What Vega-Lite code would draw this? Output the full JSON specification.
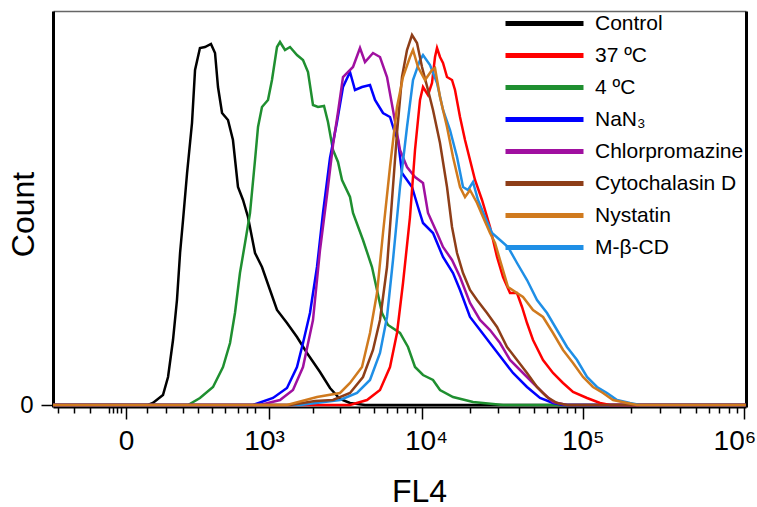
{
  "$schema": "https://vega.github.io/schema/vega-lite/v6.json",
  "width": 693,
  "height": 396,
  "autosize": "none",
  "padding": {"left": 53, "top": 11, "right": 11, "bottom": 100},
  "background": "white",
  "config": {"view": {"stroke": null}, "font": "Liberation Sans"},
  "data": {"values": [
    {"sample":"Control","fl4":-274,"count":0},{"sample":"Control","fl4":55,"count":0},{"sample":"Control","fl4":70,"count":2},{"sample":"Control","fl4":104,"count":10},{"sample":"Control","fl4":123,"count":28},{"sample":"Control","fl4":143,"count":65},{"sample":"Control","fl4":160,"count":105},{"sample":"Control","fl4":174,"count":152},{"sample":"Control","fl4":188,"count":185},{"sample":"Control","fl4":208,"count":232},{"sample":"Control","fl4":234,"count":282},{"sample":"Control","fl4":251,"count":335},{"sample":"Control","fl4":280,"count":357},{"sample":"Control","fl4":312,"count":358},{"sample":"Control","fl4":353,"count":361},{"sample":"Control","fl4":383,"count":352},{"sample":"Control","fl4":406,"count":318},{"sample":"Control","fl4":439,"count":292},{"sample":"Control","fl4":491,"count":285},{"sample":"Control","fl4":538,"count":265},{"sample":"Control","fl4":589,"count":218},{"sample":"Control","fl4":644,"count":205},{"sample":"Control","fl4":702,"count":188},{"sample":"Control","fl4":792,"count":152},{"sample":"Control","fl4":890,"count":138},{"sample":"Control","fl4":1016,"count":115},{"sample":"Control","fl4":1138,"count":95},{"sample":"Control","fl4":1335,"count":82},{"sample":"Control","fl4":1562,"count":68},{"sample":"Control","fl4":1824,"count":52},{"sample":"Control","fl4":2226,"count":33},{"sample":"Control","fl4":2589,"count":17},{"sample":"Control","fl4":3008,"count":6},{"sample":"Control","fl4":3492,"count":2},{"sample":"Control","fl4":4359,"count":0},{"sample":"Control","fl4":1020000,"count":0},
    {"sample":"4 ºC","fl4":-274,"count":0},{"sample":"4 ºC","fl4":213,"count":0},{"sample":"4 ºC","fl4":280,"count":7},{"sample":"4 ºC","fl4":368,"count":18},{"sample":"4 ºC","fl4":447,"count":38},{"sample":"4 ºC","fl4":510,"count":62},{"sample":"4 ºC","fl4":558,"count":92},{"sample":"4 ºC","fl4":610,"count":132},{"sample":"4 ºC","fl4":667,"count":162},{"sample":"4 ºC","fl4":727,"count":192},{"sample":"4 ºC","fl4":792,"count":245},{"sample":"4 ºC","fl4":833,"count":278},{"sample":"4 ºC","fl4":890,"count":298},{"sample":"4 ºC","fl4":983,"count":305},{"sample":"4 ºC","fl4":1049,"count":325},{"sample":"4 ºC","fl4":1138,"count":358},{"sample":"4 ºC","fl4":1194,"count":363},{"sample":"4 ºC","fl4":1293,"count":355},{"sample":"4 ºC","fl4":1400,"count":358},{"sample":"4 ºC","fl4":1562,"count":350},{"sample":"4 ºC","fl4":1715,"count":345},{"sample":"4 ºC","fl4":1853,"count":333},{"sample":"4 ºC","fl4":2000,"count":300},{"sample":"4 ºC","fl4":2159,"count":298},{"sample":"4 ºC","fl4":2365,"count":299},{"sample":"4 ºC","fl4":2512,"count":283},{"sample":"4 ºC","fl4":2709,"count":255},{"sample":"4 ºC","fl4":2920,"count":243},{"sample":"4 ºC","fl4":3100,"count":225},{"sample":"4 ºC","fl4":3492,"count":208},{"sample":"4 ºC","fl4":3651,"count":192},{"sample":"4 ºC","fl4":4232,"count":165},{"sample":"4 ºC","fl4":4831,"count":138},{"sample":"4 ºC","fl4":5594,"count":92},{"sample":"4 ºC","fl4":6106,"count":80},{"sample":"4 ºC","fl4":7272,"count":72},{"sample":"4 ºC","fl4":8167,"count":58},{"sample":"4 ºC","fl4":9039,"count":38},{"sample":"4 ºC","fl4":10148,"count":30},{"sample":"4 ºC","fl4":11724,"count":25},{"sample":"4 ºC","fl4":12966,"count":15},{"sample":"4 ºC","fl4":15636,"count":8},{"sample":"4 ºC","fl4":20837,"count":3},{"sample":"4 ºC","fl4":27752,"count":1},{"sample":"4 ºC","fl4":32022,"count":0},{"sample":"4 ºC","fl4":1020000,"count":0},
    {"sample":"NaN₃","fl4":-274,"count":0},{"sample":"NaN₃","fl4":765,"count":0},{"sample":"NaN₃","fl4":1067,"count":7},{"sample":"NaN₃","fl4":1335,"count":17},{"sample":"NaN₃","fl4":1562,"count":38},{"sample":"NaN₃","fl4":1715,"count":62},{"sample":"NaN₃","fl4":1910,"count":92},{"sample":"NaN₃","fl4":2126,"count":138},{"sample":"NaN₃","fl4":2329,"count":192},{"sample":"NaN₃","fl4":2589,"count":247},{"sample":"NaN₃","fl4":2876,"count":283},{"sample":"NaN₃","fl4":3146,"count":318},{"sample":"NaN₃","fl4":3492,"count":333},{"sample":"NaN₃","fl4":3760,"count":315},{"sample":"NaN₃","fl4":4170,"count":318},{"sample":"NaN₃","fl4":4691,"count":320},{"sample":"NaN₃","fl4":5049,"count":305},{"sample":"NaN₃","fl4":5676,"count":292},{"sample":"NaN₃","fl4":6287,"count":288},{"sample":"NaN₃","fl4":6762,"count":272},{"sample":"NaN₃","fl4":7063,"count":265},{"sample":"NaN₃","fl4":7486,"count":232},{"sample":"NaN₃","fl4":8655,"count":218},{"sample":"NaN₃","fl4":9440,"count":198},{"sample":"NaN₃","fl4":10148,"count":182},{"sample":"NaN₃","fl4":11724,"count":172},{"sample":"NaN₃","fl4":13541,"count":148},{"sample":"NaN₃","fl4":15636,"count":132},{"sample":"NaN₃","fl4":17291,"count":115},{"sample":"NaN₃","fl4":19960,"count":88},{"sample":"NaN₃","fl4":23040,"count":75},{"sample":"NaN₃","fl4":27752,"count":58},{"sample":"NaN₃","fl4":32022,"count":45},{"sample":"NaN₃","fl4":36944,"count":32},{"sample":"NaN₃","fl4":45129,"count":18},{"sample":"NaN₃","fl4":54370,"count":7},{"sample":"NaN₃","fl4":65414,"count":2},{"sample":"NaN₃","fl4":75448,"count":0},{"sample":"NaN₃","fl4":1020000,"count":0},
    {"sample":"Chlorpromazine","fl4":-274,"count":0},{"sample":"Chlorpromazine","fl4":861,"count":0},{"sample":"Chlorpromazine","fl4":1194,"count":5},{"sample":"Chlorpromazine","fl4":1467,"count":15},{"sample":"Chlorpromazine","fl4":1715,"count":38},{"sample":"Chlorpromazine","fl4":2000,"count":85},{"sample":"Chlorpromazine","fl4":2226,"count":155},{"sample":"Chlorpromazine","fl4":2475,"count":210},{"sample":"Chlorpromazine","fl4":2709,"count":260},{"sample":"Chlorpromazine","fl4":2920,"count":293},{"sample":"Chlorpromazine","fl4":3146,"count":328},{"sample":"Chlorpromazine","fl4":3651,"count":338},{"sample":"Chlorpromazine","fl4":4049,"count":357},{"sample":"Chlorpromazine","fl4":4359,"count":343},{"sample":"Chlorpromazine","fl4":4903,"count":352},{"sample":"Chlorpromazine","fl4":5432,"count":348},{"sample":"Chlorpromazine","fl4":6018,"count":328},{"sample":"Chlorpromazine","fl4":6567,"count":295},{"sample":"Chlorpromazine","fl4":7272,"count":255},{"sample":"Chlorpromazine","fl4":8050,"count":238},{"sample":"Chlorpromazine","fl4":9039,"count":228},{"sample":"Chlorpromazine","fl4":10148,"count":222},{"sample":"Chlorpromazine","fl4":10908,"count":192},{"sample":"Chlorpromazine","fl4":12420,"count":172},{"sample":"Chlorpromazine","fl4":13541,"count":158},{"sample":"Chlorpromazine","fl4":15413,"count":145},{"sample":"Chlorpromazine","fl4":17291,"count":128},{"sample":"Chlorpromazine","fl4":19960,"count":102},{"sample":"Chlorpromazine","fl4":23040,"count":85},{"sample":"Chlorpromazine","fl4":26590,"count":75},{"sample":"Chlorpromazine","fl4":30680,"count":62},{"sample":"Chlorpromazine","fl4":35400,"count":45},{"sample":"Chlorpromazine","fl4":40840,"count":35},{"sample":"Chlorpromazine","fl4":49166,"count":22},{"sample":"Chlorpromazine","fl4":56713,"count":12},{"sample":"Chlorpromazine","fl4":65414,"count":3},{"sample":"Chlorpromazine","fl4":79880,"count":0},{"sample":"Chlorpromazine","fl4":1020000,"count":0},
    {"sample":"37 ºC","fl4":-274,"count":0},{"sample":"37 ºC","fl4":3492,"count":0},{"sample":"37 ºC","fl4":4489,"count":5},{"sample":"37 ºC","fl4":5432,"count":15},{"sample":"37 ºC","fl4":6287,"count":38},{"sample":"37 ºC","fl4":6961,"count":72},{"sample":"37 ºC","fl4":7596,"count":122},{"sample":"37 ºC","fl4":8407,"count":188},{"sample":"37 ºC","fl4":9039,"count":255},{"sample":"37 ºC","fl4":9717,"count":305},{"sample":"37 ºC","fl4":10148,"count":318},{"sample":"37 ºC","fl4":10908,"count":310},{"sample":"37 ºC","fl4":11556,"count":322},{"sample":"37 ºC","fl4":12067,"count":348},{"sample":"37 ºC","fl4":12420,"count":357},{"sample":"37 ºC","fl4":12966,"count":348},{"sample":"37 ºC","fl4":13541,"count":342},{"sample":"37 ºC","fl4":14343,"count":328},{"sample":"37 ºC","fl4":15413,"count":325},{"sample":"37 ºC","fl4":16092,"count":315},{"sample":"37 ºC","fl4":17291,"count":288},{"sample":"37 ºC","fl4":18577,"count":265},{"sample":"37 ºC","fl4":19960,"count":245},{"sample":"37 ºC","fl4":21443,"count":225},{"sample":"37 ºC","fl4":23707,"count":205},{"sample":"37 ºC","fl4":26590,"count":178},{"sample":"37 ºC","fl4":29388,"count":148},{"sample":"37 ºC","fl4":32022,"count":128},{"sample":"37 ºC","fl4":35400,"count":112},{"sample":"37 ºC","fl4":39119,"count":112},{"sample":"37 ºC","fl4":42016,"count":98},{"sample":"37 ºC","fl4":45129,"count":82},{"sample":"37 ºC","fl4":49166,"count":65},{"sample":"37 ºC","fl4":56713,"count":45},{"sample":"37 ºC","fl4":65414,"count":32},{"sample":"37 ºC","fl4":75448,"count":22},{"sample":"37 ºC","fl4":87017,"count":13},{"sample":"37 ºC","fl4":106248,"count":7},{"sample":"37 ºC","fl4":127881,"count":2},{"sample":"37 ºC","fl4":147473,"count":0},{"sample":"37 ºC","fl4":1020000,"count":0},
    {"sample":"M-β-CD","fl4":-274,"count":0},{"sample":"M-β-CD","fl4":1637,"count":0},{"sample":"M-β-CD","fl4":3008,"count":5},{"sample":"M-β-CD","fl4":3874,"count":12},{"sample":"M-β-CD","fl4":4691,"count":25},{"sample":"M-β-CD","fl4":5432,"count":52},{"sample":"M-β-CD","fl4":6018,"count":88},{"sample":"M-β-CD","fl4":6567,"count":145},{"sample":"M-β-CD","fl4":7272,"count":218},{"sample":"M-β-CD","fl4":8050,"count":278},{"sample":"M-β-CD","fl4":8781,"count":325},{"sample":"M-β-CD","fl4":9717,"count":345},{"sample":"M-β-CD","fl4":10148,"count":350},{"sample":"M-β-CD","fl4":11227,"count":340},{"sample":"M-β-CD","fl4":12420,"count":322},{"sample":"M-β-CD","fl4":13541,"count":295},{"sample":"M-β-CD","fl4":14976,"count":275},{"sample":"M-β-CD","fl4":16562,"count":248},{"sample":"M-β-CD","fl4":18051,"count":218},{"sample":"M-β-CD","fl4":19395,"count":215},{"sample":"M-β-CD","fl4":20837,"count":223},{"sample":"M-β-CD","fl4":22386,"count":205},{"sample":"M-β-CD","fl4":24748,"count":188},{"sample":"M-β-CD","fl4":27357,"count":172},{"sample":"M-β-CD","fl4":30680,"count":165},{"sample":"M-β-CD","fl4":34396,"count":158},{"sample":"M-β-CD","fl4":39119,"count":142},{"sample":"M-β-CD","fl4":45129,"count":125},{"sample":"M-β-CD","fl4":52057,"count":105},{"sample":"M-β-CD","fl4":60047,"count":92},{"sample":"M-β-CD","fl4":69258,"count":75},{"sample":"M-β-CD","fl4":79880,"count":58},{"sample":"M-β-CD","fl4":92127,"count":45},{"sample":"M-β-CD","fl4":106248,"count":28},{"sample":"M-β-CD","fl4":122530,"count":18},{"sample":"M-β-CD","fl4":141304,"count":12},{"sample":"M-β-CD","fl4":162950,"count":5},{"sample":"M-β-CD","fl4":196111,"count":2},{"sample":"M-β-CD","fl4":226144,"count":0},{"sample":"M-β-CD","fl4":1020000,"count":0},
    {"sample":"Cytochalasin D","fl4":-274,"count":0},{"sample":"Cytochalasin D","fl4":1400,"count":0},{"sample":"Cytochalasin D","fl4":2062,"count":4},{"sample":"Cytochalasin D","fl4":2709,"count":5},{"sample":"Cytochalasin D","fl4":3492,"count":12},{"sample":"Cytochalasin D","fl4":4232,"count":28},{"sample":"Cytochalasin D","fl4":4903,"count":55},{"sample":"Cytochalasin D","fl4":5432,"count":85},{"sample":"Cytochalasin D","fl4":6018,"count":138},{"sample":"Cytochalasin D","fl4":6472,"count":205},{"sample":"Cytochalasin D","fl4":6961,"count":272},{"sample":"Cytochalasin D","fl4":7486,"count":328},{"sample":"Cytochalasin D","fl4":8050,"count":355},{"sample":"Cytochalasin D","fl4":8655,"count":370},{"sample":"Cytochalasin D","fl4":9305,"count":362},{"sample":"Cytochalasin D","fl4":10002,"count":338},{"sample":"Cytochalasin D","fl4":10908,"count":315},{"sample":"Cytochalasin D","fl4":11724,"count":295},{"sample":"Cytochalasin D","fl4":12966,"count":262},{"sample":"Cytochalasin D","fl4":14343,"count":218},{"sample":"Cytochalasin D","fl4":15413,"count":178},{"sample":"Cytochalasin D","fl4":16562,"count":152},{"sample":"Cytochalasin D","fl4":18051,"count":132},{"sample":"Cytochalasin D","fl4":19960,"count":115},{"sample":"Cytochalasin D","fl4":22067,"count":105},{"sample":"Cytochalasin D","fl4":25468,"count":92},{"sample":"Cytochalasin D","fl4":29388,"count":78},{"sample":"Cytochalasin D","fl4":33908,"count":58},{"sample":"Cytochalasin D","fl4":39119,"count":45},{"sample":"Cytochalasin D","fl4":45129,"count":32},{"sample":"Cytochalasin D","fl4":52057,"count":18},{"sample":"Cytochalasin D","fl4":60047,"count":8},{"sample":"Cytochalasin D","fl4":69258,"count":2},{"sample":"Cytochalasin D","fl4":79880,"count":0},{"sample":"Cytochalasin D","fl4":1020000,"count":0},
    {"sample":"Nystatin","fl4":-274,"count":0},{"sample":"Nystatin","fl4":1335,"count":0},{"sample":"Nystatin","fl4":2126,"count":8},{"sample":"Nystatin","fl4":3008,"count":12},{"sample":"Nystatin","fl4":3492,"count":22},{"sample":"Nystatin","fl4":4170,"count":38},{"sample":"Nystatin","fl4":4691,"count":72},{"sample":"Nystatin","fl4":5199,"count":112},{"sample":"Nystatin","fl4":5676,"count":172},{"sample":"Nystatin","fl4":6287,"count":238},{"sample":"Nystatin","fl4":6961,"count":298},{"sample":"Nystatin","fl4":7596,"count":328},{"sample":"Nystatin","fl4":8407,"count":348},{"sample":"Nystatin","fl4":8781,"count":355},{"sample":"Nystatin","fl4":9440,"count":338},{"sample":"Nystatin","fl4":10445,"count":325},{"sample":"Nystatin","fl4":11556,"count":335},{"sample":"Nystatin","fl4":12067,"count":337},{"sample":"Nystatin","fl4":12966,"count":308},{"sample":"Nystatin","fl4":14343,"count":278},{"sample":"Nystatin","fl4":15636,"count":248},{"sample":"Nystatin","fl4":17291,"count":218},{"sample":"Nystatin","fl4":18577,"count":208},{"sample":"Nystatin","fl4":19960,"count":215},{"sample":"Nystatin","fl4":22067,"count":202},{"sample":"Nystatin","fl4":24049,"count":188},{"sample":"Nystatin","fl4":26590,"count":172},{"sample":"Nystatin","fl4":28558,"count":162},{"sample":"Nystatin","fl4":30680,"count":145},{"sample":"Nystatin","fl4":34396,"count":118},{"sample":"Nystatin","fl4":39119,"count":112},{"sample":"Nystatin","fl4":42621,"count":108},{"sample":"Nystatin","fl4":49166,"count":95},{"sample":"Nystatin","fl4":56713,"count":88},{"sample":"Nystatin","fl4":65414,"count":72},{"sample":"Nystatin","fl4":75448,"count":55},{"sample":"Nystatin","fl4":87017,"count":42},{"sample":"Nystatin","fl4":100356,"count":28},{"sample":"Nystatin","fl4":115736,"count":18},{"sample":"Nystatin","fl4":133470,"count":12},{"sample":"Nystatin","fl4":153917,"count":5},{"sample":"Nystatin","fl4":187909,"count":2},{"sample":"Nystatin","fl4":216687,"count":0},{"sample":"Nystatin","fl4":1020000,"count":0}
  ]},
  "layer": [
    {
      "mark": {"type": "line", "strokeWidth": 2.5, "interpolate": "linear"},
      "encoding": {
        "x": {
          "field": "fl4", "type": "quantitative",
          "scale": {"type": "symlog", "constant": 150, "domain": [-274, 1023000], "nice": false, "zero": false},
          "axis": {
            "values": [-243, -163, -100, -40, -30, -20, -10, 0, 51, 115, 188, 268, 360, 464, 589, 690, 792, 1000, 2000, 3000, 4000, 5000, 6000, 7000, 8000, 9000, 10000, 20000, 30000, 40000, 50000, 60000, 70000, 80000, 90000, 100000, 200000, 300000, 400000, 500000, 600000, 700000, 800000, 900000, 1000000],
            "labelExpr": "datum.value == 0 ? '0' : datum.value == 1000 ? '10³' : datum.value == 10000 ? '10⁴' : datum.value == 100000 ? '10⁵' : datum.value == 1000000 ? '10⁶' : ''",
            "tickSize": {"condition": {"test": "indexof([0, 1000, 10000, 100000, 1000000], datum.value) >= 0", "value": 12}, "value": 6},
            "labelOffset": {"condition": [{"test": "datum.value == 1000000", "value": -10}, {"test": "datum.value == 1000", "value": -5}, {"test": "datum.value == 10000", "value": 4}], "value": 0},
            "tickColor": "black", "tickWidth": 1.5,
            "domainColor": "black", "domainWidth": 2,
            "grid": false,
            "labelFont": "Liberation Sans", "labelFontSize": 28, "labelColor": "black", "labelPadding": 8,
            "labelOverlap": false, "labelFlush": false, "labelBound": false,
            "title": "FL4", "titleFont": "Liberation Sans", "titleFontSize": 32, "titleFontWeight": "normal", "titleColor": "black",
            "titleX": 366, "titleY": 84, "titleAlign": "center", "titleBaseline": "middle"
          }
        },
        "y": {
          "field": "count", "type": "quantitative",
          "scale": {"domain": [-2, 394], "nice": false, "zero": false},
          "axis": {
            "values": [0],
            "tickSize": 12, "tickColor": "black", "tickWidth": 1.5,
            "domainColor": "black", "domainWidth": 3,
            "grid": false,
            "labelFont": "Liberation Sans", "labelFontSize": 24, "labelColor": "black", "labelPadding": 8,
            "title": "Count", "titleFont": "Liberation Sans", "titleFontSize": 32, "titleFontWeight": "normal", "titleColor": "black",
            "titleX": -30, "titleY": 203, "titleAngle": -90, "titleAlign": "center", "titleBaseline": "middle"
          }
        },
        "color": {
          "field": "sample", "type": "nominal",
          "scale": {
            "domain": ["Control", "37 ºC", "4 ºC", "NaN₃", "Chlorpromazine", "Cytochalasin D", "Nystatin", "M-β-CD"],
            "range": ["#000000", "#ff0000", "#1f8f30", "#0000ff", "#a010a0", "#8e3e18", "#d07a1e", "#1f8fe6"]
          },
          "legend": {
            "orient": "none", "legendX": 481, "legendY": 2,
            "title": null, "padding": 0,
            "symbolType": "M-7.8,0H7.8", "symbolSize": 100, "symbolStrokeWidth": 5,
            "labelFont": "Liberation Sans", "labelFontSize": 21, "labelColor": "black", "labelOffset": 40,
            "rowPadding": 10
          }
        }
      }
    },
    {
      "mark": {"type": "line", "opacity": 0},
      "encoding": {
        "x": {
          "field": "fl4", "type": "quantitative",
          "scale": {"type": "symlog", "constant": 150, "domain": [-274, 1023000], "nice": false, "zero": false},
          "axis": {"orient": "top", "labels": false, "ticks": false, "title": null, "grid": false, "domainColor": "#666666", "domainWidth": 1.5}
        },
        "y": {
          "field": "count", "type": "quantitative",
          "scale": {"domain": [-2, 394], "nice": false, "zero": false},
          "axis": {"orient": "right", "labels": false, "ticks": false, "title": null, "grid": false, "domainColor": "black", "domainWidth": 3}
        }
      }
    }
  ],
  "resolve": {"axis": {"x": "independent", "y": "independent"}}
}
